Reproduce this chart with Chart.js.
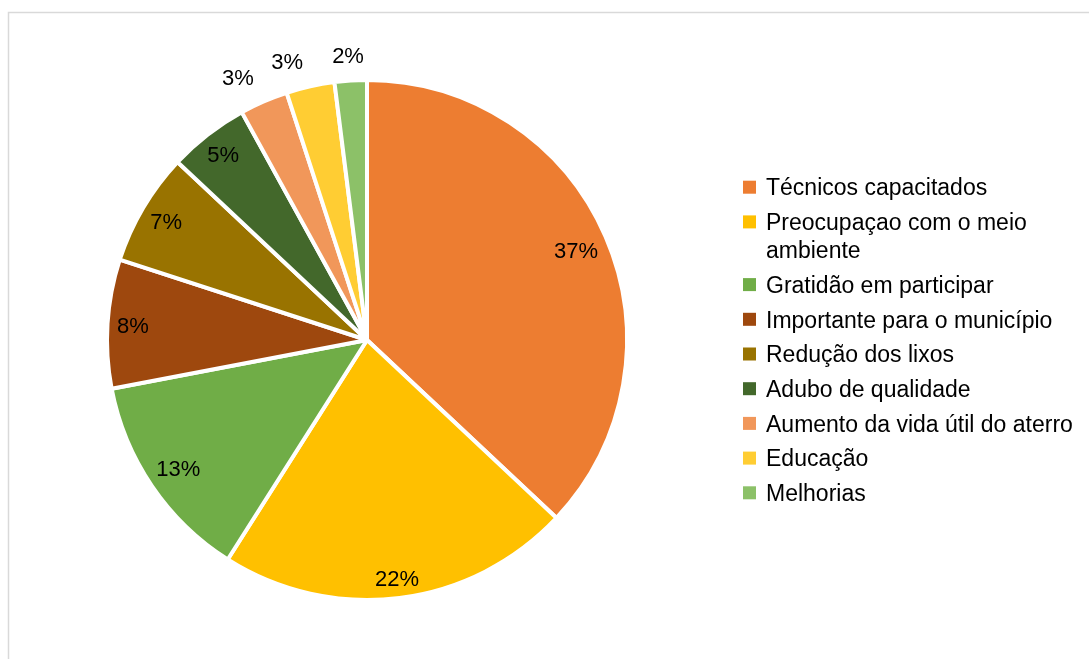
<!DOCTYPE html>
<html>
<head>
<meta charset="utf-8">
<script src="https://cdn.jsdelivr.net/npm/chart.js@4.4.1/dist/chart.umd.min.js"></script>
<style>
body{margin:0;background:#fff;}
#wrap{width:1089px;height:659px;position:relative;}
</style>
</head>
<body>
<div id="wrap"><canvas id="pieChart" width="1089" height="659"></canvas></div>
<script>
const categories = [
'Técnicos capacitados',
'Preocupaçao com o meio ambiente',
'Gratidão em participar',
'Importante para o município',
'Redução dos lixos',
'Adubo de qualidade',
'Aumento da vida útil do aterro',
'Educação',
'Melhorias'
];
const percents = [37, 22, 13, 8, 7, 5, 3, 3, 2];
const sliceColors = ['#ED7D31','#FFC000','#70AD47','#9E480E','#997300','#43682B','#F1975A','#FFCD33','#8CC168'];

const FONT = '"Liberation Sans", Arial, sans-serif';

// light grey frame round the whole chart
const framePlugin = {
id: 'frame',
beforeDraw(chart){
const c = chart.ctx;
c.save();
c.strokeStyle = '#d9d9d9';
c.lineWidth = 1.5;
c.strokeRect(8.5, 12.5, chart.width + 10, chart.height + 10);
c.restore();
}
};

// percentage labels: inside the slice near the rim, small slices outside
const sliceLabels = {
id: 'sliceLabels',
afterDatasetsDraw(chart){
const c = chart.ctx;
const size = 22;
c.save();
c.font = size + 'px ' + FONT;
c.fillStyle = '#000';
c.textAlign = 'center';
c.textBaseline = 'alphabetic';
chart.getDatasetMeta(0).data.forEach((arc, i) => {
const p = arc.getProps(['x','y','startAngle','endAngle','outerRadius'], true);
const mid = (p.startAngle + p.endAngle) / 2;
const ux = Math.cos(mid), uy = Math.sin(mid);
const text = percents[i] + '%';
const hw = c.measureText(text).width / 2;
const hh = size * 0.36;
let lx, ly;
if(percents[i] >= 4){
// push inwards until the text box sits inside the rim
const cx = Math.sign(ux) * hw, cy = Math.sign(uy) * hh;
const target = p.outerRadius - 9;
const uc = ux * cx + uy * cy;
const d = -uc + Math.sqrt(uc * uc - (cx * cx + cy * cy) + target * target);
lx = p.x + ux * d;
ly = p.y + uy * d;
}else{
// anchor just outside the rim, box hangs away from the pie
const px = p.x + ux * (p.outerRadius + 15);
const py = p.y + uy * (p.outerRadius + 15);
const fx = Math.min(1, Math.max(0, (Math.abs(ux) - 0.05) / 0.15));
const fy = Math.min(1, Math.max(0, (Math.abs(uy) - 0.05) / 0.15));
lx = px + Math.sign(ux) * (hw + 4) * fx;
ly = py + Math.sign(uy) * (hh + 3) * fy;
}
c.fillText(text, lx, ly + hh);
});
c.restore();
}
};

// legend on the right, wrapping long entries
const sideLegend = {
id: 'sideLegend',
afterDraw(chart){
const c = chart.ctx;
const size = 23;
const boxX = 743, textX = 766, box = 13;
const step = 34.7, lineH = 28;
const maxW = chart.width - textX - 6;
c.save();
c.font = size + 'px ' + FONT;
const rows = categories.map(label => {
const words = label.split(' ');
const lines = [];
let cur = '';
words.forEach(w => {
const t = cur ? cur + ' ' + w : w;
if(cur && c.measureText(t).width > maxW){
lines.push(cur);
cur = w;
}else{
cur = t;
}
});
lines.push(cur);
return lines;
});
let total = 0;
rows.forEach(r => total += step + (r.length - 1) * lineH);
total -= step;
const meta = chart.getDatasetMeta(0).data[0];
let y = meta.y - total / 2;
c.textAlign = 'left';
c.textBaseline = 'alphabetic';
rows.forEach((lines, i) => {
c.fillStyle = sliceColors[i];
c.fillRect(boxX, y - box / 2, box, box);
c.fillStyle = '#000';
lines.forEach((ln, k) => {
c.fillText(ln, textX, y + k * lineH + size * 0.36);
});
y += step + (lines.length - 1) * lineH;
});
c.restore();
}
};

new Chart(document.getElementById('pieChart'), {
type: 'pie',
data: {
labels: categories,
datasets: [{
data: percents,
backgroundColor: sliceColors,
borderColor: '#fff',
borderWidth: 4,
radius: 260
}]
},
options: {
responsive: false,
animation: false,
layout: { padding: { left: 0, right: 355, top: 21, bottom: 0 } },
plugins: {
legend: { display: false },
tooltip: { enabled: false }
}
},
plugins: [framePlugin, sliceLabels, sideLegend]
});
</script>
</body>
</html>
